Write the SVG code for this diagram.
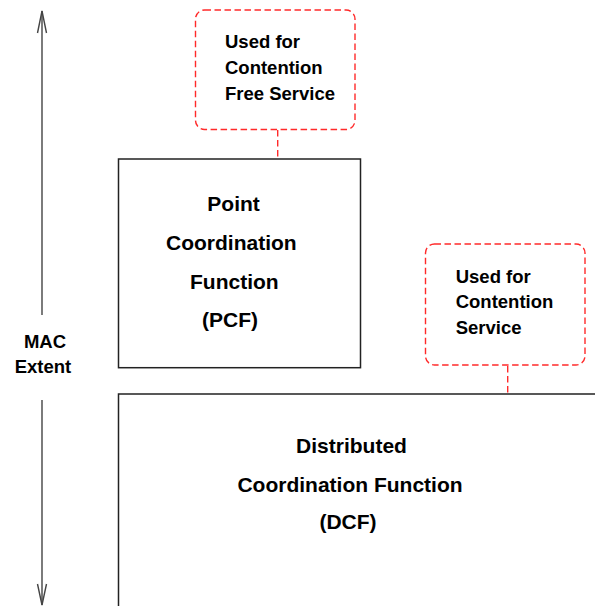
<svg xmlns="http://www.w3.org/2000/svg" width="595" height="606" viewBox="0 0 595 606">
<style>
.t{font-family:"Liberation Sans",Arial,sans-serif;font-weight:bold;fill:#000}
.big{font-size:21px}
.mid{font-size:18.5px}
.box{fill:none;stroke:#222;stroke-width:1.5}
.dash{fill:none;stroke:#ff2a2a;stroke-width:1.4;stroke-dasharray:6.5,3.5}
.ax{fill:none;stroke:#444;stroke-width:1.4}
</style>
<rect width="595" height="606" fill="#fff"/>
<g id="connectors">
<line class="dash" x1="277.7" y1="130" x2="277.7" y2="158.5"/>
<line class="dash" x1="507.7" y1="366" x2="507.7" y2="393.5"/>
</g>
<g id="mac-extent">
<line class="ax" x1="42" y1="11" x2="42" y2="315"/>
<polyline class="ax" points="37.5,33 42,11 46.5,33" stroke="#111"/>
<line class="ax" x1="42" y1="400" x2="42" y2="605"/>
<polyline class="ax" points="37.5,584 42,605 46.5,584" stroke="#111"/>
<text class="t mid" text-anchor="middle" x="45" y="348">MAC</text>
<text class="t mid" text-anchor="middle" x="43" y="373">Extent</text>
</g>
<g id="cfs-note">
<rect class="dash" x="195.5" y="10" width="159.5" height="119.5" rx="9"/>
<text class="t mid" x="225" y="48">Used for</text>
<text class="t mid" x="225" y="73.5">Contention</text>
<text class="t mid" x="225" y="99.5">Free Service</text>
</g>
<g id="pcf">
<rect class="box" x="118.5" y="159" width="242" height="208.7"/>
<text class="t big" x="207.3" y="210.7">Point</text>
<text class="t big" x="166" y="249.5">Coordination</text>
<text class="t big" x="190" y="288.5">Function</text>
<text class="t big" x="202" y="327">(PCF)</text>
</g>
<g id="cs-note">
<rect class="dash" x="425.5" y="244" width="159.5" height="121" rx="9"/>
<text class="t mid" x="455.7" y="282.7">Used for</text>
<text class="t mid" x="455.7" y="308.3">Contention</text>
<text class="t mid" x="455.7" y="334">Service</text>
</g>
<g id="dcf">
<path class="box" d="M118.5,607 V394 H596"/>
<text class="t big" text-anchor="middle" x="351.5" y="452.7">Distributed</text>
<text class="t big" text-anchor="middle" x="350" y="491.7">Coordination Function</text>
<text class="t big" text-anchor="middle" x="348" y="529">(DCF)</text>
</g>
</svg>
